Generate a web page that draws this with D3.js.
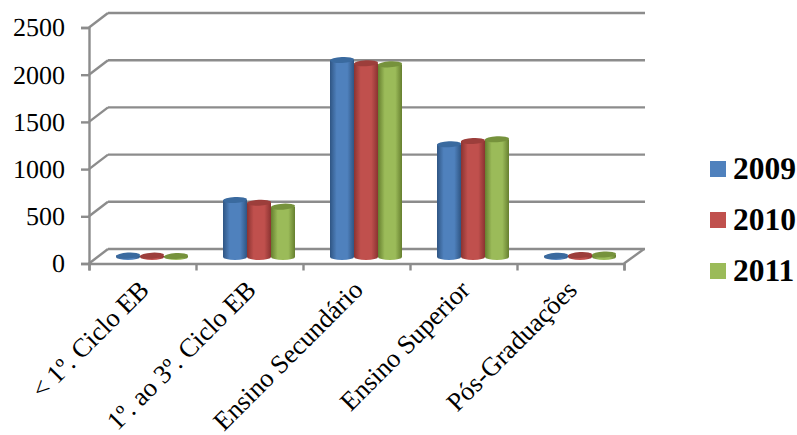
<!DOCTYPE html>
<html>
<head>
<meta charset="utf-8">
<script src="https://cdn.jsdelivr.net/npm/d3@7"></script>
<style>
html,body{margin:0;padding:0;background:#fff}
svg{display:block}
text{font-family:"Liberation Serif",serif;fill:#000;text-rendering:geometricPrecision}
</style>
</head>
<body>
<svg id="chart" width="797" height="435"></svg>
<script>
const categories = ["< 1º. Ciclo EB", "1º. ao 3º. Ciclo EB", "Ensino Secundário", "Ensino Superior", "Pós-Graduações"];
const years = ["2009", "2010", "2011"];
const values2009 = [15, 604, 2087, 1194, 12];
const values2010 = [14, 575, 2052, 1229, 20];
const values2011 = [10, 533, 2041, 1247, 26];
const yTicks = [0, 500, 1000, 1500, 2000, 2500];
const seriesValues = [values2009, values2010, values2011];

const faceColors = [
  {edge: "#2f5583", mid: "#4f81bd", cap: "#3a6a9f"},
  {edge: "#8a3331", mid: "#c0504d", cap: "#9c3e3b"},
  {edge: "#667f2f", mid: "#9bbb59", cap: "#76923c"}
];
const gridColor = "#8c8c8c";

const svg = d3.select("#chart");
const defs = svg.append("defs");

// Plot frame: the front edge of the floor plus the depth offset of the back wall
const front = {left: 89, right: 624, bottom: 263.5, top: 27.5};
const depth = {x: 19, y: -14.5};
const barLift = -6.5;

const x = d3.scaleBand().domain(categories).range([front.left, front.right]);
const y = d3.scaleLinear().domain([0, 2500]).range([front.bottom, front.top]);
const seriesX = d3.scaleBand().domain(years).range([27, 99]);

// Back wall gridlines
svg.append("g").selectAll("line").data(yTicks).join("line")
  .attr("x1", front.left + depth.x).attr("x2", front.right + depth.x + 2)
  .attr("y1", d => y(d) + depth.y).attr("y2", d => y(d) + depth.y)
  .attr("stroke", gridColor).attr("stroke-width", 2.4);

// Side wall diagonals joining the value axis to the back wall
svg.append("g").selectAll("line").data(yTicks).join("line")
  .attr("x1", front.left).attr("x2", front.left + depth.x)
  .attr("y1", d => y(d)).attr("y2", d => y(d) + depth.y)
  .attr("stroke", gridColor).attr("stroke-width", 2.4);

// Right floor edge
svg.append("line")
  .attr("x1", front.right).attr("x2", front.right + depth.x + 1)
  .attr("y1", y(0)).attr("y2", y(0) + depth.y)
  .attr("stroke", gridColor).attr("stroke-width", 2.4);

// Value axis
const yAxis = svg.append("g")
  .attr("transform", `translate(${front.left},0)`)
  .call(d3.axisLeft(y).tickValues(yTicks).tickSize(8).tickPadding(16).tickFormat(d3.format("d")));
yAxis.selectAll("path,line").attr("stroke", gridColor).attr("stroke-width", 2.4);
yAxis.selectAll("text").style("font-size", "26px").style("font-family", '"Liberation Serif",serif').attr("fill", "#000");

// Category axis: ticks fall on band boundaries, labels are slanted at band centres
const boundaries = categories.map(c => x(c)).concat([front.right]);
const xTickAxis = svg.append("g")
  .attr("transform", `translate(0,${front.bottom})`)
  .call(d3.axisBottom(d3.scaleLinear().domain([front.left, front.right]).range([front.left, front.right]))
    .tickValues(boundaries).tickSize(7).tickFormat(""));
xTickAxis.selectAll("path,line").attr("stroke", gridColor).attr("stroke-width", 2.4);

const xLabels = svg.append("g")
  .attr("transform", `translate(0,${front.bottom})`)
  .call(d3.axisBottom(x).tickSize(0));
xLabels.select("path").remove();
xLabels.selectAll("text")
  .style("font-size", "26.4px").style("font-family", '"Liberation Serif",serif').attr("fill", "#000")
  .attr("text-anchor", "end")
  .attr("dx", 0).attr("dy", 0).attr("x", 0).attr("y", 0)
  .attr("transform", "translate(8,28) rotate(-45)");

// Shaded cylinders
years.forEach((yr, i) => {
  const grad = defs.append("linearGradient").attr("id", "cyl" + i);
  const c = faceColors[i];
  grad.append("stop").attr("offset", "0%").attr("stop-color", c.edge);
  grad.append("stop").attr("offset", "28%").attr("stop-color", c.mid);
  grad.append("stop").attr("offset", "72%").attr("stop-color", c.mid);
  grad.append("stop").attr("offset", "100%").attr("stop-color", c.edge);
});

const ry = 3;
const bars = svg.append("g");
categories.forEach((cat, ci) => {
  years.forEach((yr, si) => {
    const v = seriesValues[si][ci];
    const bx = x(cat) + seriesX(yr);
    const w = seriesX.bandwidth();
    const rx = w / 2;
    const yBase = y(0) + barLift;
    const yTop = y(v) + barLift;
    const g = bars.append("g");
    g.append("path")
      .attr("d", `M${bx},${yTop}L${bx},${yBase}A${rx},${ry} 0 0 0 ${bx + w},${yBase}L${bx + w},${yTop}Z`)
      .attr("fill", `url(#cyl${si})`);
    g.append("ellipse")
      .attr("cx", bx + rx).attr("cy", yTop).attr("rx", rx).attr("ry", ry)
      .attr("transform", `rotate(-3 ${bx + rx} ${yTop})`)
      .attr("fill", faceColors[si].cap);
  });
});

// Legend
const legendY = d3.scalePoint().domain(years).range([169, 271]);
const legend = svg.append("g");
years.forEach((yr, i) => {
  legend.append("rect")
    .attr("x", 710).attr("y", legendY(yr) - 8).attr("width", 16).attr("height", 16)
    .attr("fill", faceColors[i].mid);
  legend.append("text")
    .attr("x", 733).attr("y", legendY(yr) + 10)
    .style("font-size", "31.5px").style("font-weight", "bold")
    .text(yr);
});
</script>
</body>
</html>
